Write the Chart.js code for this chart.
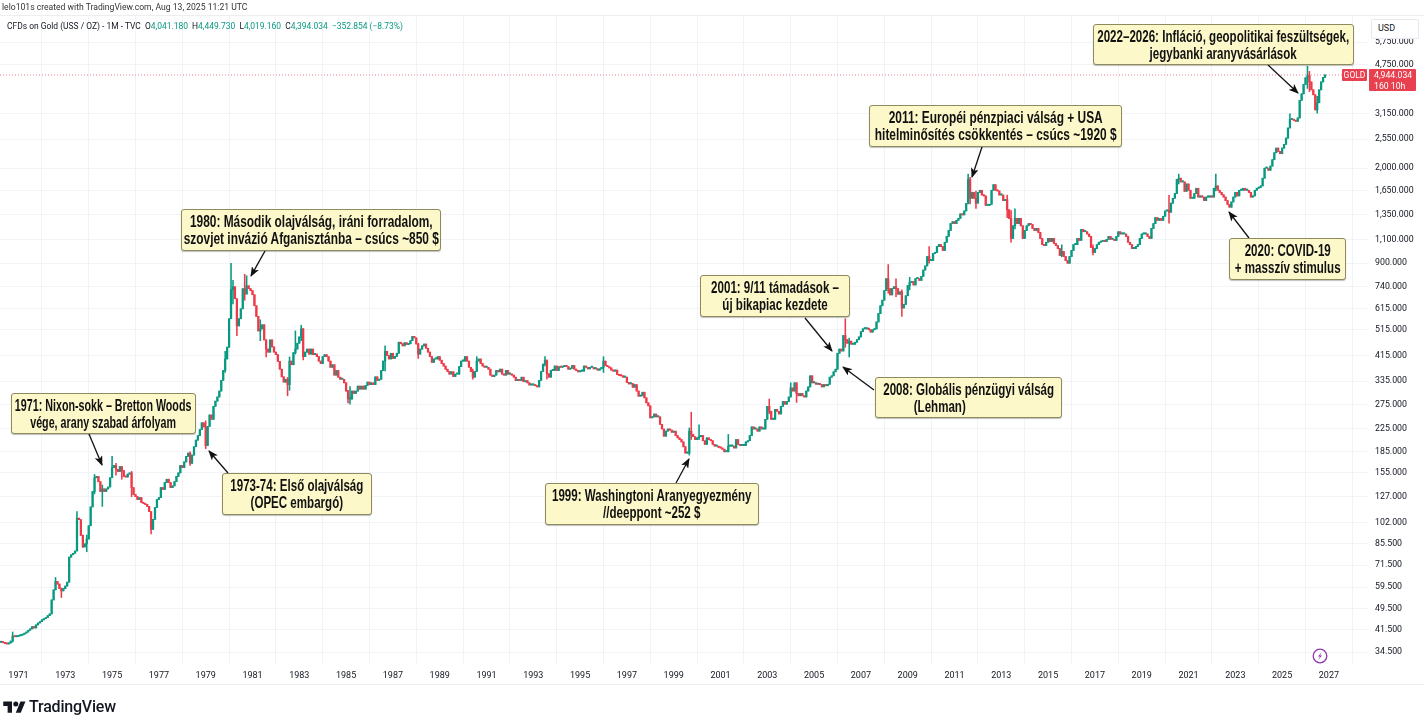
<!DOCTYPE html>
<html>
<head>
<meta charset="utf-8">
<title>CFDs on Gold</title>
<script src="https://cdn.jsdelivr.net/npm/chart.js@4/dist/chart.umd.min.js"></script>
<style>
  html, body { margin: 0; padding: 0; background: #fff; }
  #wrap { position: relative; width: 1424px; height: 720px; overflow: hidden; font-family: Roboto, sans-serif; color: #131722; }
  canvas { position: absolute; left: 0; top: 0; }
  #arrows { position: absolute; left: 0; top: 0; }
  .line { position: absolute; left: 0; width: 1424px; height: 1px; background: #eceef2; }
  #credit { position: absolute; left: 2px; top: 1px; font-size: 8.6px; color: #333; line-height: 12px; }
  #legend { position: absolute; left: 7px; top: 20px; font-size: 8.45px; line-height: 12px; white-space: pre; }
  #legend b { font-weight: 400; color: #089981; }
  .note { position: absolute; box-sizing: border-box; background: #fdf8c9; border: 1px solid #8d8a5e; border-radius: 3px;
    box-shadow: 0 1px 1px rgba(0,0,0,0.25); font-family: "Liberation Sans", sans-serif; font-weight: 700;
    font-size: 17px; line-height: 17px; color: #111; text-align: center; display: flex; align-items: center; justify-content: center; white-space: pre; }
  .note span { display: inline-block; flex: none; }
  #usd { position: absolute; left: 1371px; top: 19px; width: 48px; height: 20px; box-sizing: border-box; background: #fff; border: 1px solid #e6e8ee;
    border-radius: 2px; font-size: 9px; line-height: 16px; padding-left: 6px; }
  #goldTag { position: absolute; left: 1342px; top: 69px; width: 25px; height: 12px; background: #e8404f; color: #fff; font-size: 8.5px; line-height: 12px; text-align: center; border-radius: 1px; }
  #priceTag { position: absolute; left: 1369px; top: 69px; width: 47px; height: 22px; background: #e8404f; color: #fff; font-size: 8.7px; line-height: 10.5px; padding: 1px 0 0 5px; box-sizing: border-box; border-radius: 1px; }
  #logoText { position: absolute; left: 29px; top: 697px; font-size: 16px; font-weight: 500; color: #131722; letter-spacing: -0.2px; }
</style>
</head>
<body>
<div id="wrap">
  <canvas id="chart_here" width="1424" height="720"></canvas>
  <div class="line" style="top:15px"></div>
  <div class="line" style="top:684px"></div>
  <div id="credit">lelo101s created with TradingView.com, Aug 13, 2025 11:21 UTC</div>
  <div id="legend">CFDs on Gold (USS / OZ) - 1M - TVC  O<b>4,041.180</b>  H<b>4,449.730</b>  L<b>4,019.160</b>  C<b>4,394.034  −352.854 (−8.73%)</b></div>
  <svg id="arrows" width="1424" height="720"></svg>
  <div id="usd">USD</div>
  <div id="goldTag">GOLD</div>
  <div id="priceTag">4,944.034<br>160 10h</div>
  <svg style="position:absolute;left:1312px;top:648px" width="16" height="16" viewBox="0 0 16 16">
    <circle cx="8" cy="8" r="6.8" fill="#fff" stroke="#8e3aa8" stroke-width="1.3"/>
    <path d="M9.8 4 L6 8.4 H8 L6.2 12 L10 7.4 H8 Z" fill="#8e3aa8"/>
  </svg>
  <svg style="position:absolute;left:3px;top:699px" width="23" height="15" viewBox="0 0 36 24">
    <path d="M14 22H7V11H0V4h14v18zM28 22h-8l7.5-18h8L28 22z" fill="#131722"/>
    <circle cx="20" cy="8" r="4" fill="#131722"/>
  </svg>
  <div id="logoText">TradingView</div>
</div>
<script>
'use strict';
// gold monthly candles

var firstYear = 1970;
var firstMonth = 4;
var closes = [
  37.4,37.3,37.0,36.9,37.2,37.8,39.4,39.2,39.3,
  39.5,39.7,40.0,40.4,40.8,41.4,41.9,42.7,42.2,43.3,44.0,44.5,
  45.2,45.6,46.0,46.8,47.5,53.4,58.1,62.3,61,58.7,57.6,58.7,
  60,62,76.5,78,79,80.5,106,104.7,91.8,83.3,85.5,89,
  99.5,116.5,132.6,148.8,150.5,143.9,132.6,135.5,132.6,135.5,137.7,148.8,
  162,165,159.5,156.8,163.5,158,150.5,149.7,153.5,155,137,129.3,
  127,124,126,121,120,119,117,112,96.5,105,116,124,
  126,137,135,143,147,143,137,139,144,150.5,155,165,
  162,170,178,183,168,180,193,204,212,223,236,228,
  195,229,252,243,271,283,293,308,337,366,403,445,
  565,720,739,668,532,565,614,727,695,745,727,715,
  691,630,576,510,519,537,473,438,427,473,446,427,
  418,395,370,347,332,340,325,396,384,425,438,460,
  485,519,411,427,438,420,438,418,420,411,396,388,
  411,418,411,396,376,384,352,366,346,340,340,330,
  308,288,288,308,302,308,321,313,321,313,323,332,
  325,330,325,347,337,340,366,396,430,415,403,423,
  405,412,423,464,458,450,462,455,458,470,487,481,
  457,420,438,450,457,441,427,411,392,403,403,411,
  399,388,380,370,363,355,362,348,355,355,378,396,
  396,411,396,376,363,346,363,396,403,388,380,376,
  376,370,352,348,352,366,362,370,355,352,366,355,
  355,352,346,336,339,336,346,333,336,330,324,324,
  324,322,319,337,363,386,398,356,346,366,366,380,
  366,378,376,378,382,378,370,373,382,370,366,362,
  364,364,380,376,371,376,376,371,371,367,371,376,
  396,381,378,374,367,364,367,354,351,350,346,346,
  331,327,328,318,325,308,295,296,305,291,279,272,
  246,248,254,248,248,233,224,211,220,224,222,218,
  220,212,208,205,201,193,183,183,220,214,210,205,
  208,210,212,203,197,208,205,203,197,194,194,192,
  191,189,185,185,194,194,194,191,205,197,195,195,
  195,201,203,212,228,224,224,220,228,224,224,243,
  271,260,243,243,264,260,254,271,282,276,282,293,
  316,308,330,302,296,302,296,293,308,319,350,330,
  330,326,328,325,319,325,322,326,346,350,362,370,
  423,438,431,491,474,460,468,456,456,464,474,485,
  507,519,519,522,515,505,515,519,550,590,630,660,
  715,791,727,690,727,739,727,694,708,618,637,685,
  746,766,772,750,791,791,779,806,850,880,952,920,
  920,977,985,1035,1052,1035,1002,1073,1127,1185,1255,1276,
  1255,1290,1311,1361,1350,1395,1488,1820,1552,1630,1552,1490,
  1630,1660,1595,1583,1462,1462,1475,1660,1740,1660,1650,1595,
  1595,1522,1535,1410,1311,1108,1232,1311,1255,1311,1232,1108,
  1185,1232,1255,1245,1205,1185,1205,1165,1108,1052,1043,1073,
  1108,1080,1108,1062,1043,1018,960,993,952,920,900,952,
  1002,1052,1052,1108,1090,1195,1172,1172,1150,1127,1027,985,
  1018,1052,1073,1080,1090,1080,1100,1127,1100,1100,1090,1127,
  1172,1150,1150,1150,1127,1073,1052,1018,1018,1035,1052,1108,
  1150,1150,1150,1127,1108,1205,1255,1320,1290,1311,1290,1335,
  1395,1405,1380,1490,1552,1615,1820,1837,1780,1780,1645,1750,
  1660,1552,1552,1615,1688,1568,1583,1568,1522,1568,1568,1583,
  1568,1688,1722,1660,1630,1598,1568,1522,1475,1440,1505,1568,
  1630,1583,1660,1660,1688,1660,1660,1630,1568,1583,1660,1688,
  1700,1722,1837,1998,1998,1963,2033,2145,2274,2365,2300,2255,
  2365,2440,2572,2799,3005,3005,2985,2960,3045,3530,3727,4030,
  4265,4340,4120,3855,3698,3257,3458,3855,4120,4280,4370
];

// only the wicks that stick out enough to read
var wickMonths = ['1970-10','1972-08','1972-11','1973-07','1973-10','1973-12','1974-04','1974-08','1975-01','1975-03','1975-06','1975-11','1976-09','1978-05','1979-01','1979-11',
  '1980-02','1980-03','1980-05','1980-09','1980-10','1981-05','1981-08','1982-07','1982-08','1982-11','1983-02','1983-03','1985-02','1985-03','1986-09','1988-02',
  '1990-06','1990-08','1993-07','1993-08','1996-01','1999-09','1999-10','2000-02','2001-05','2003-02','2004-01','2004-04','2006-05','2006-07','2008-03','2008-07','2008-10','2009-02',
  '2009-12','2011-08','2011-09','2011-12','2013-04','2013-06','2013-08','2015-08','2016-12','2020-03','2020-08','2022-03','2025-05','2026-02','2026-03','2026-07'];
var wickHighs = [40.8,64.5,59,112,92,92,153,140,178,168,163,157,110,185,240,430,
  900,780,640,820,810,560,470,345,410,510,535,520,310,320,450,460,
  370,411,411,400,411,226,258,232,214,288,330,305,565,480,890,790,720,800,
  1035,1900,1850,1650,1595,1400,1420,1050,1050,1590,1900,1900,3150,4700,4500,3650];
var wickLows = [37.5,60,54.5,96,83,80,130,117,158,152,147,127,93,165,190,360,
  640,640,490,660,700,470,410,296,310,420,470,400,279,276,365,405,
  340,380,380,340,360,180,205,205,188,255,305,280,445,410,700,680,576,720,
  900,1480,1480,1426,1320,1073,1200,950,965,1260,1750,1650,2950,3900,3800,3170];

var priceLevel = 4367;

var xTickYears = [1971,1973,1975,1977,1979,1981,1983,1985,1987,1989,1991,1993,1995,1997,1999,2001,2003,2005,2007,2009,2011,2013,2015,2017,2019,2021,2023,2025,2027];
var yTickValues = [34.5,41.5,49.5,59.5,71.5,85.5,102,127,155,185,225,275,335,415,515,615,740,900,1100,1350,1650,2000,2550,3150,4750,5750];
var yTickLabels = ['34.500','41.500','49.500','59.500','71.500','85.500','102.000','127.000','155.000','185.000','225.000','275.000','335.000','415.000','515.000','615.000','740.000','900.000','1,100.000','1,350.000','1,650.000','2,000.000','2,550.000','3,150.000','4,750.000','5,750.000'];

var xMin = 1970.21;
var xMax = 2028.67;
var yMin = 31.46;
var yMax = 7222;

var upColor = '#089981';
var downColor = '#ee3a48';
var gridColor = '#f2f3f6';

// callouts: text, box left/top/width/height, horizontal squeeze of the text
var notes = [
  ['1971: Nixon-sokk – Bretton Woods\nvége, arany szabad árfolyam', 11, 393, 185, 41, 0.63],
  ['1973-74: Első olajválság\n(OPEC embargó)', 222, 473, 150, 42, 0.68],
  ['1980: Második olajválság, iráni forradalom,\nszovjet invázió Afganisztánba – csúcs ~850 $', 181, 209, 260, 42, 0.70],
  ['1999: Washingtoni Aranyegyezmény\n//deeppont ~252 $', 545, 483, 214, 42, 0.68],
  ['2001: 9/11 támadások –\núj bikapiac kezdete', 700, 275, 150, 42, 0.68],
  ['2008: Globális pénzügyi válság\n(Lehman)                  ', 875, 377, 187, 41, 0.68],
  ['2011: Européi pénzpiaci válság + USA\nhitelminősítés csökkentés – csúcs ~1920 $', 869, 105, 253, 42, 0.70],
  ['2020: COVID-19\n+ masszív stimulus', 1229, 238, 117, 42, 0.68],
  ['2022–2026: Infláció, geopolitikai feszültségek,\njegybanki aranyvásárlások', 1093, 24, 261, 41, 0.68]
];
var noteArrows = [
  [89,434,102,465],[228,473,209,451],[265,251,251,276],[676,483,689,459],[805,318,832,351],
  [874,390,843,367],[982,147,972,177],[1249,238,1229,212],[1268,65,1298,93]
];

var monthIndex = function(key) {
  var parts = key.split('-');
  return (parseInt(parts[0]) - firstYear) * 12 + parseInt(parts[1]) - firstMonth;
};

var makeCandles = function() {
  var bodies = [], wicks = [], colors = [];
  var extraHigh = {}, extraLow = {};
  for(var w = 0; w < wickMonths.length; w++) {
    extraHigh[monthIndex(wickMonths[w])] = wickHighs[w];
    extraLow[monthIndex(wickMonths[w])] = wickLows[w];
  }
  for(var i = 0; i < closes.length; i++) {
    var x = firstYear + (firstMonth - 1 + i) / 12;
    var open = i === 0 ? closes[0] : closes[i - 1];
    var close = closes[i];
    bodies.push({x: x, y: [open, close]});
    colors.push(close >= open ? upColor : downColor);
    if(extraHigh[i]) {
      wicks.push({x: x, y: [Math.min(extraLow[i], open, close), Math.max(extraHigh[i], open, close)]});
    } else {
      wicks.push({x: x, y: [open, close]});
    }
  }
  return {bodies: bodies, wicks: wicks, colors: colors};
};

var drawNotes = function() {
  var wrap = document.getElementById('wrap');
  for(var n = 0; n < notes.length; n++) {
    var box = document.createElement('div');
    var inner = document.createElement('span');
    box.className = 'note';
    inner.textContent = notes[n][0];
    inner.style.transform = 'scaleX(' + notes[n][5] + ')';
    box.appendChild(inner);
    box.style.left = notes[n][1] + 'px';
    box.style.top = notes[n][2] + 'px';
    box.style.width = notes[n][3] + 'px';
    box.style.height = notes[n][4] + 'px';
    wrap.appendChild(box);
  }
  var svg = '<defs><marker id="head" markerWidth="10" markerHeight="8" refX="9" refY="4" orient="auto" markerUnits="userSpaceOnUse"><path d="M0,0 L10,4 L0,8 L2.5,4 Z" fill="#111"/></marker></defs>';
  for(var a = 0; a < noteArrows.length; a++) {
    var p = noteArrows[a];
    svg += '<line x1="' + p[0] + '" y1="' + p[1] + '" x2="' + p[2] + '" y2="' + p[3] + '" stroke="#111" stroke-width="1.3" marker-end="url(#head)"/>';
  }
  document.getElementById('arrows').innerHTML = svg;
};

var candles = makeCandles();
var ctx = document.getElementById('chart_here').getContext('2d');
new Chart(ctx, {
  type: 'bar',
  data: {
    datasets: [
      {
        type: 'line',
        data: [{x: xMin, y: priceLevel}, {x: xMax, y: priceLevel}],
        borderColor: '#f0808a',
        borderWidth: 1,
        borderDash: [1, 2],
        pointRadius: 0,
        order: 3
      },
      {
        data: candles.wicks,
        backgroundColor: candles.colors,
        barThickness: 0.9,
        minBarLength: 1,
        grouped: false,
        order: 2
      },
      {
        data: candles.bodies,
        backgroundColor: candles.colors,
        barThickness: 1.6,
        minBarLength: 1.2,
        grouped: false,
        order: 1
      }
    ]
  },
  options: {
    responsive: false,
    animation: false,
    layout: {padding: {top: 15, bottom: 36, left: 0, right: 0}},
    plugins: {legend: {display: false}, tooltip: {enabled: false}},
    scales: {
      x: {
        type: 'linear',
        offset: false,
        min: xMin,
        max: xMax,
        afterBuildTicks: function(scale) {
          scale.ticks = xTickYears.map(function(y) { return {value: y}; });
        },
        afterFit: function(scale) { scale.height = 21; },
        grid: {color: gridColor, drawTicks: false},
        border: {display: false},
        ticks: {
          autoSkip: false,
          maxRotation: 0,
          padding: 7,
          color: '#131722',
          font: {family: 'Roboto', size: 9},
          callback: function(value) { return String(value); }
        }
      },
      y: {
        type: 'logarithmic',
        position: 'right',
        min: yMin,
        max: yMax,
        afterBuildTicks: function(scale) {
          scale.ticks = yTickValues.map(function(v) { return {value: v}; });
        },
        afterFit: function(scale) { scale.width = 56; },
        grid: {color: gridColor, drawTicks: false},
        border: {display: false},
        ticks: {
          autoSkip: false,
          padding: 7,
          color: '#131722',
          font: {family: 'Roboto', size: 8.8},
          callback: function(value, index) { return yTickLabels[index]; }
        }
      }
    }
  }
});
drawNotes();
</script>
</body>
</html>
